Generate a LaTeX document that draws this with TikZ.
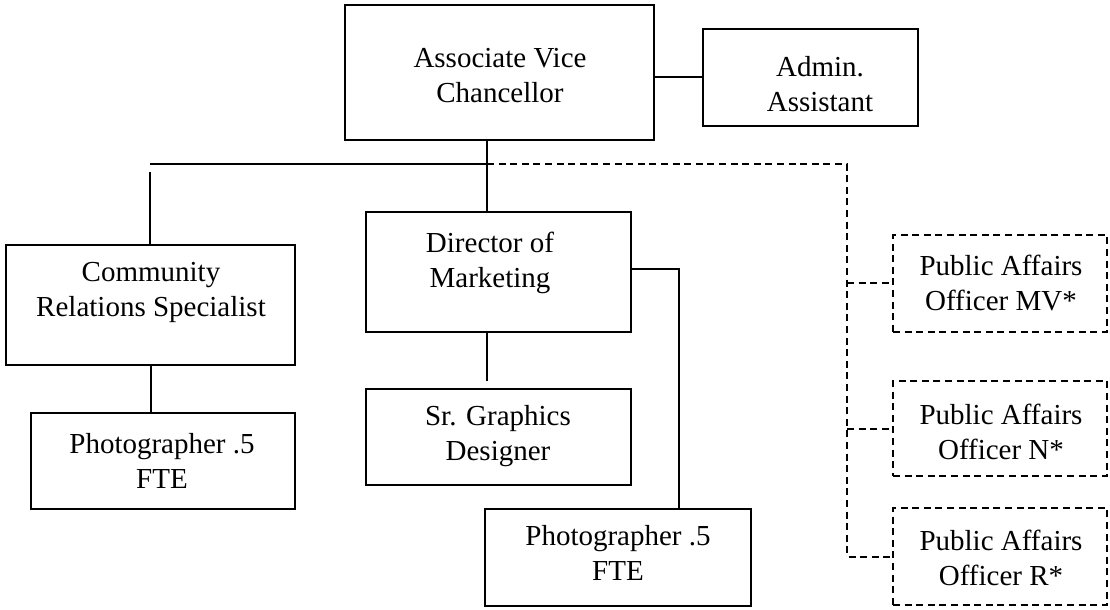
\documentclass[tikz,border=0pt]{standalone}
\usepackage{fontspec}
\setmainfont{Liberation Serif}
\begin{document}
\begin{tikzpicture}[
  x=0.5pt, y=-0.5pt,
  box/.style={draw, line width=1pt, rectangle, inner sep=0pt},
  dbox/.style={box, dash pattern=on 3.5pt off 2.3pt},
  txt/.style={align=center, inner sep=0pt, font=\fontsize{14.5}{17.5}\selectfont},
  link/.style={line width=1pt},
  dlink/.style={line width=1pt, dash pattern=on 3.5pt off 2.3pt}
]
\useasboundingbox (0,0) rectangle (1110,610);

% boxes
\node[box, minimum width=154.5pt, minimum height=67.5pt] (avc) at (499.5,72.5) {};
\node[txt] (avct) at (500,76) {Associate Vice\\Chancellor};

\node[box, minimum width=107.5pt, minimum height=48.5pt] (adm) at (810.5,77.5) {};
\node[txt] (admt) at (820,84) {Admin.\\Assistant};

\node[box, minimum width=144.5pt, minimum height=60pt] (crs) at (150.5,305) {};
\node[txt] (crst) at (151,292) {Community\\Relations Specialist};

\node[box, minimum width=132pt, minimum height=48pt] (ph1) at (163,461) {};
\node[txt] (ph1t) at (162,461) {Photographer .5\\FTE};

\node[box, minimum width=132.5pt, minimum height=60pt] (dir) at (498.5,272) {};
\node[txt] (dirt) at (490,263) {Director of\\Marketing};

\node[box, minimum width=132.5pt, minimum height=48pt] (sg) at (498.5,437) {};
\node[txt] (sgt) at (498,436) {Sr. Graphics\\Designer};

\node[box, minimum width=133pt, minimum height=48.5pt] (ph2) at (618,557.5) {};
\node[txt] (ph2t) at (618,553) {Photographer .5\\FTE};

\node[dbox, minimum width=107pt, minimum height=48.5pt] (pamv) at (1000,283.5) {};
\node[txt] (pamvt) at (1001,283) {Public Affairs\\Officer MV*};

\node[dbox, minimum width=107pt, minimum height=47.5pt] (pan) at (1000,428.5) {};
\node[txt] (pant) at (1001,432) {Public Affairs\\Officer N*};

\node[dbox, minimum width=107pt, minimum height=48.5pt] (par) at (1000,556.5) {};
\node[txt] (part) at (1001,558) {Public Affairs\\Officer R*};

% junction points
\coordinate (j) at (487,164);
\coordinate (jl) at (150,164);
\coordinate (cl) at (150,172);
\coordinate (jr) at (847,164);
\coordinate (sgc) at (487,381);
\coordinate (pk) at (679,269);

% solid reporting lines
\draw[link] (avc.east |- adm.west) -- (adm.west);
\draw[link] (avc.south -| j) -- (dir.north -| j);
\draw[link] (jl) -- (j);
\draw[link] (cl) -- (cl |- crs.north);
\draw[link] (crs.south) -- (crs.south |- ph1.north);
\draw[link] (dir.south -| sgc) -- (sgc);
\draw[link] (dir.east |- pk) -- (pk) -- (pk |- ph2.north);

% dotted-line reporting
\draw[dlink] (j) -- (jr) -- (jr |- par.west) -- (par.west);
\draw[dlink] (jr |- pamv.west) -- (pamv.west);
\draw[dlink] (jr |- pan.west) -- (pan.west);
\end{tikzpicture}
\end{document}
